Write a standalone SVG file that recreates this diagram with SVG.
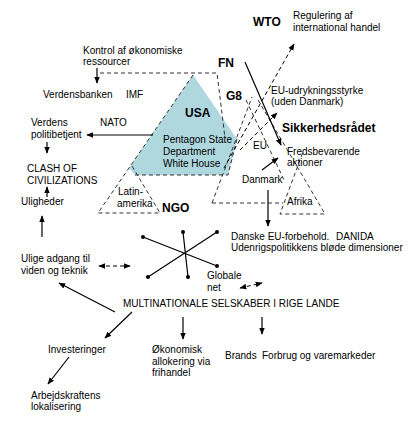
<svg xmlns="http://www.w3.org/2000/svg" width="413" height="427" viewBox="0 0 413 427">
<defs>
<style>
text{font-family:"Liberation Sans",Arial,sans-serif;font-size:10px;fill:#000}
.b{font-weight:bold;font-size:12px}
.d{fill:none;stroke:#333;stroke-width:1;stroke-dasharray:4,3}
.s{fill:none;stroke:#000;stroke-width:1.2}
.a{marker-end:url(#ah)}
.aa{marker-end:url(#ah);marker-start:url(#ah)}
</style>
<marker id="ah" viewBox="0 0 10 10" refX="9" refY="5" markerWidth="7" markerHeight="7" markerUnits="userSpaceOnUse" orient="auto-start-reverse"><path d="M0,1 L10,5 L0,9 z" fill="#000"/></marker>
</defs>
<rect width="413" height="427" fill="#fff"/>
<g id="regions">
<polygon points="193,75 237,139 228,175 135,175 129,168" fill="#aed7de"/>
<path class="d" d="M100,73 H217 L225,138"/>
<path class="d" d="M193,75 L98,213 H160 L132,166"/>
<path class="d" d="M135,175 H228 L237,139"/>
<path class="d" d="M212,203 L252,97"/>
<path class="d" d="M212,203 H283"/>
<path class="d" d="M246,100 L285,182"/>
<path class="d" d="M258,100 L325,214 H280 L303,152"/>
</g>
<g id="connectors">
<path class="s a" d="M97,68 V83"/>
<path class="s a" d="M153,135 H87"/>
<path class="s a" d="M47,142 V153"/>
<path class="s a" d="M47,197 V187"/>
<path class="s a" d="M42,237 V216"/>
<path class="d aa" d="M99,266 H130" style="stroke:#000"/>
<path class="s a" d="M245,62 L281,145"/>
<path class="d a" d="M224,168 L294,44" style="stroke:#000"/>
<path class="d a" d="M240,150 L277,113" style="stroke:#000"/>
<path class="s a" d="M262,170 L278,158"/>
<path class="s a" d="M268,190 V226"/>
<path class="d aa" d="M240,288 L262,283" style="stroke:#000"/>
<path class="s a" d="M115,312 L59,283"/>
<path class="s a" d="M132,312 L105,338"/>
<path class="s a" d="M183,317 V339"/>
<path class="s a" d="M262,317 V334"/>
<path class="s a" d="M69,357 L48,384"/>
</g>
<g id="star">
<path class="s" d="M143,237 L217,266 M217,232 L148,277 M183,232 L188,277"/>
<g fill="#000">
<circle cx="143" cy="237" r="2"/><circle cx="217" cy="266" r="2"/>
<circle cx="217" cy="232" r="2"/><circle cx="148" cy="277" r="2"/>
<circle cx="183" cy="232" r="2"/><circle cx="188" cy="277" r="2"/>
</g>
</g>
<g id="n-kontrol"><text x="83" y="54">Kontrol af økonomiske</text><text x="83" y="65">ressourcer</text></g>
<g id="n-verdensbanken"><text x="43" y="98">Verdensbanken</text><text x="126" y="98">IMF</text></g>
<g id="n-verdens"><text x="31" y="126">Verdens</text><text x="31" y="138">politibetjent</text></g>
<g id="n-nato"><text x="100" y="126">NATO</text></g>
<g id="n-clash"><text x="27" y="172">CLASH OF</text><text x="27" y="184">CIVILIZATIONS</text></g>
<g id="n-uligheder"><text x="21" y="205">Uligheder</text></g>
<g id="n-ulige"><text x="21" y="262">Ulige adgang til</text><text x="21" y="274">viden og teknik</text></g>
<g id="n-wto"><text class="b" x="253" y="26">WTO</text></g>
<g id="n-regulering"><text x="293" y="19">Regulering af</text><text x="293" y="31">international handel</text></g>
<g id="n-fn"><text class="b" x="218" y="67">FN</text></g>
<g id="n-g8"><text class="b" x="226" y="100">G8</text></g>
<g id="n-eu-udr"><text x="271" y="94">EU-udrykningsstyrke</text><text x="271" y="105">(uden Danmark)</text></g>
<g id="n-sik"><text class="b" x="282" y="132">Sikkerhedsrådet</text></g>
<g id="n-usa"><text class="b" x="185" y="117">USA</text><text x="163" y="143">Pentagon State</text><text x="163" y="155">Department</text><text x="163" y="167">White House</text></g>
<g id="n-eu"><text x="253" y="149">EU</text></g>
<g id="n-freds"><text x="287" y="155">Fredsbevarende</text><text x="287" y="166">aktioner</text></g>
<g id="n-danmark"><text x="242" y="183">Danmark</text></g>
<g id="n-afrika"><text x="287" y="205">Afrika</text></g>
<g id="n-latin"><text x="118" y="195">Latin-</text><text x="117" y="207">amerika</text></g>
<g id="n-ngo"><text class="b" x="162" y="212">NGO</text></g>
<g id="n-danske"><text x="231" y="240">Danske EU-forbehold.<tspan x="336">DANIDA</tspan></text><text x="231" y="251">Udenrigspolitikkens bløde dimensioner</text></g>
<g id="n-globale"><text x="207" y="279">Globale</text><text x="207" y="291">net</text></g>
<g id="n-multi"><text x="123" y="307">MULTINATIONALE SELSKABER I RIGE LANDE</text></g>
<g id="n-invest"><text x="48" y="353">Investeringer</text></g>
<g id="n-okon"><text x="152" y="353">Økonomisk</text><text x="152" y="365">allokering via</text><text x="152" y="376">frihandel</text></g>
<g id="n-brands"><text x="225" y="359">Brands<tspan x="262">Forbrug og varemarkeder</tspan></text></g>
<g id="n-arbejds"><text x="31" y="399">Arbejdskraftens</text><text x="31" y="410">lokalisering</text></g>
</svg>
